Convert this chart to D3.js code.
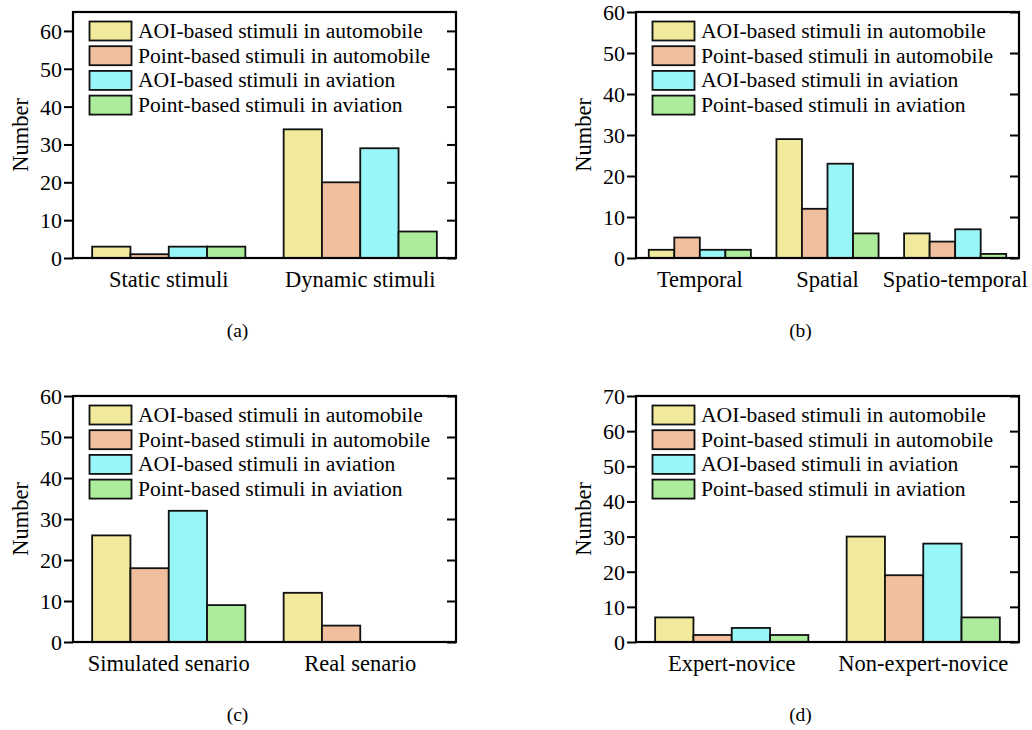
<!DOCTYPE html>
<html>
<head>
<meta charset="utf-8">
<script src="https://cdn.jsdelivr.net/npm/d3@7"></script>
<style>
  body { margin: 0; background: #fff; }
  text { font-family: "Liberation Serif", "Times New Roman", serif; fill: #000; }
</style>
</head>
<body>
<div id="chart"></div>
<script>
// data
const seriesNames = [
  "AOI-based stimuli in automobile",
  "Point-based stimuli in automobile",
  "AOI-based stimuli in aviation",
  "Point-based stimuli in aviation"
];
const seriesColors = ["#f1e99b", "#f2bf9e", "#98f6f8", "#abeb9b"];

const catsA = ["Static stimuli", "Dynamic stimuli"];
const valsA = [[3, 1, 3, 3], [34, 20, 29, 7]];
const ticksA = [0, 10, 20, 30, 40, 50, 60];

const catsB = ["Temporal", "Spatial", "Spatio-temporal"];
const valsB = [[2, 5, 2, 2], [29, 12, 23, 6], [6, 4, 7, 1]];
const ticksB = [0, 10, 20, 30, 40, 50, 60];

const catsC = ["Simulated senario", "Real senario"];
const valsC = [[26, 18, 32, 9], [12, 4, 0, 0]];
const ticksC = [0, 10, 20, 30, 40, 50, 60];

const catsD = ["Expert-novice", "Non-expert-novice"];
const valsD = [[7, 2, 4, 2], [30, 19, 28, 7]];
const ticksD = [0, 10, 20, 30, 40, 50, 60, 70];

const panels = [
  {cats: catsA, vals: valsA, ticks: ticksA, yMax: 65, x: 73, y: 12, caption: "(a)"},
  {cats: catsB, vals: valsB, ticks: ticksB, yMax: 60, x: 636, y: 12, caption: "(b)"},
  {cats: catsC, vals: valsC, ticks: ticksC, yMax: 60, x: 73, y: 396, caption: "(c)"},
  {cats: catsD, vals: valsD, ticks: ticksD, yMax: 70, x: 636, y: 396, caption: "(d)"}
];

const W = 1032, H = 730;
const pw = 383, ph = 246;
const serif = '"Liberation Serif", "Times New Roman", serif';

const svg = d3.select("#chart").append("svg")
  .attr("width", W).attr("height", H);

panels.forEach(p => {
  const g = svg.append("g").attr("transform", `translate(${p.x},${p.y})`);

  const x0 = d3.scaleBand().domain(p.cats).range([0, pw])
    .paddingInner(0.2).paddingOuter(0.1);
  const x1 = d3.scaleBand().domain(d3.range(seriesNames.length))
    .range([0, x0.bandwidth()]);
  const y = d3.scaleLinear().domain([0, p.yMax]).range([ph, 0]);

  // bars
  g.selectAll(".grp").data(p.cats).join("g")
    .attr("transform", c => `translate(${x0(c)},0)`)
    .selectAll("rect")
    .data((c, i) => p.vals[i].map((v, k) => ({v, k})))
    .join("rect")
    .attr("x", d => x1(d.k))
    .attr("y", d => y(d.v))
    .attr("width", x1.bandwidth())
    .attr("height", d => ph - y(d.v))
    .attr("fill", d => seriesColors[d.k])
    .attr("stroke", "#111")
    .attr("stroke-width", 1.8);

  // left axis, outward ticks
  const yAxis = d3.axisLeft(y).tickValues(p.ticks).tickSize(9).tickPadding(2);
  const ya = g.append("g").call(yAxis)
    .attr("font-family", serif).attr("font-size", 22);
  ya.select(".domain").remove();
  ya.selectAll("line").attr("stroke", "#000").attr("stroke-width", 2);
  ya.selectAll("text").attr("dy", "0.34em");

  // right side ticks, pointing inward
  const yr = g.append("g").attr("transform", `translate(${pw},0)`)
    .call(d3.axisLeft(y).tickValues(p.ticks).tickSize(9).tickFormat(""));
  yr.select(".domain").remove();
  yr.selectAll("line").attr("stroke", "#000").attr("stroke-width", 2);

  // frame
  g.append("rect").attr("width", pw).attr("height", ph)
    .attr("fill", "none").attr("stroke", "#000").attr("stroke-width", 2.2);

  // category labels
  g.selectAll(".cat").data(p.cats).join("text")
    .attr("x", c => x0(c) + x0.bandwidth() / 2)
    .attr("y", ph + 29)
    .attr("text-anchor", "middle")
    .style("font-size", "22.5px")
    .text(c => c);

  // y title
  g.append("text")
    .attr("transform", `translate(-45,${ph / 2}) rotate(-90)`)
    .attr("text-anchor", "middle")
    .style("font-size", "22.5px")
    .text("Number");

  // legend
  const lg = g.append("g").attr("transform", "translate(16.5,9.5)");
  const rows = lg.selectAll("g").data(seriesNames).join("g")
    .attr("transform", (d, i) => `translate(0,${i * 24.7})`);
  rows.append("rect")
    .attr("width", 42).attr("height", 19)
    .attr("fill", (d, i) => seriesColors[i])
    .attr("stroke", "#111").attr("stroke-width", 1.8);
  rows.append("text")
    .attr("x", 48.5).attr("y", 16.5)
    .style("font-size", "21.6px")
    .text(d => d);

  // caption
  g.append("text")
    .attr("x", pw / 2 - 27).attr("y", ph + 79)
    .attr("text-anchor", "middle")
    .style("font-size", "19.5px")
    .text(p.caption);
});
</script>
</body>
</html>
